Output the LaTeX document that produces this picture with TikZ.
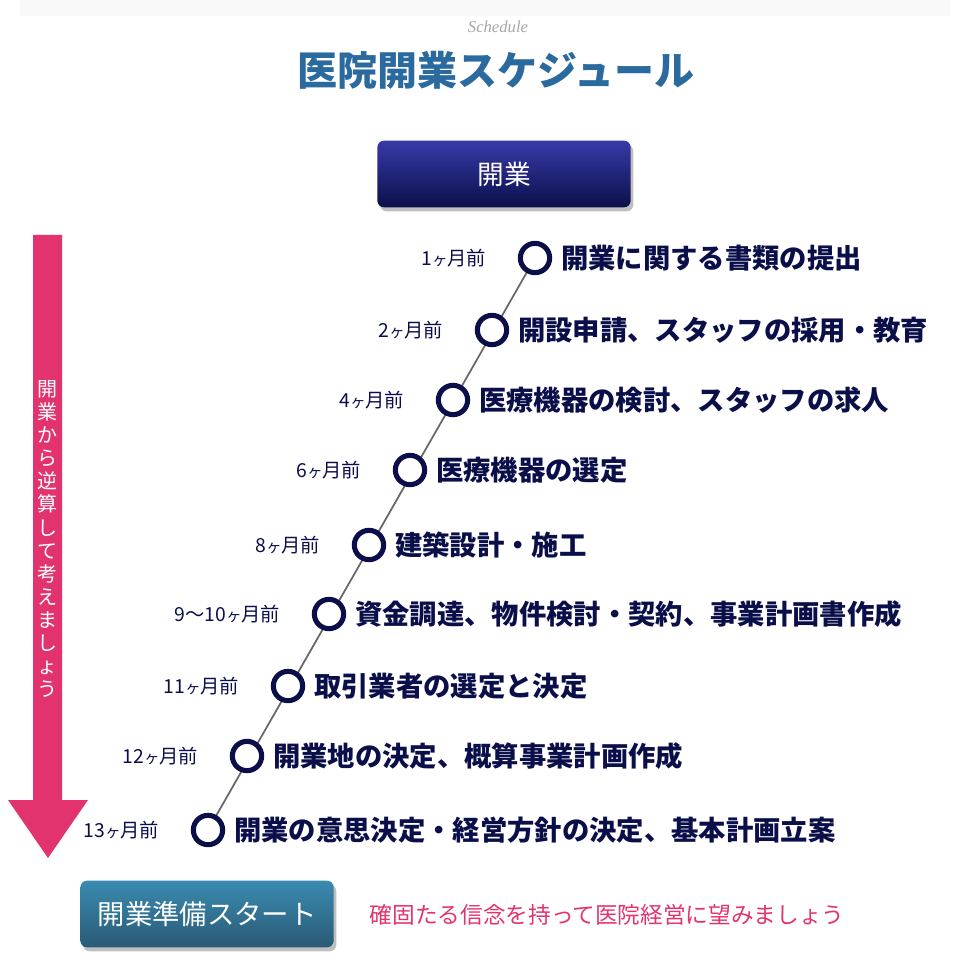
\documentclass[tikz,border=0pt]{standalone}
\usepackage{fontspec}
\setmainfont{Noto Sans CJK JP}
\newfontfamily\lib{Liberation Serif}
\usetikzlibrary{shadows}
\definecolor{navy}{HTML}{0A0F4A}
\definecolor{titleblue}{HTML}{2B6A9E}
\definecolor{pink}{HTML}{E3336E}
\definecolor{tealtop}{HTML}{3A8BB0}
\definecolor{tealbot}{HTML}{2A5A75}
\begin{document}
\begin{tikzpicture}[x=0.75pt,y=-0.75pt,
  stage/.style={circle,draw=navy,line width=3.8pt,minimum size=22pt,inner sep=0pt},
  month/.style={anchor=east,font=\fontsize{14.5}{15}\selectfont,text=navy},
  item/.style={anchor=west,font=\fontsize{20.5}{21}\selectfont\bfseries,text=navy},
  btn/.style={rounded corners=5pt,minimum width=190pt,minimum height=50pt,text=white,
     drop shadow={shadow xshift=2pt,shadow yshift=-3pt,opacity=0.5}}]
\useasboundingbox (0,0) rectangle (960,980);
\fill[gray!5] (20,0) rectangle (950,16);
\node[font=\itshape\fontsize{12.5}{13}\selectfont,text=gray!70] (sch) at (498,27) {\lib Schedule};
\node[font=\fontsize{30}{32}\selectfont\bfseries,text=titleblue] (title) at (496,70) {医院開業スケジュール};
\node[btn,top color=navy!60!blue!80,bottom color=navy,font=\fontsize{20}{22}\selectfont] (open) at (504,174) {開業};
\node[btn,top color=tealtop,bottom color=tealbot,font=\fontsize{20.5}{22}\selectfont] (start) at (207,914) {開業準備スタート};
% arrow
\fill[pink] (33,235) -- (62,235) -- (62,800) -- (88,800) -- (48,858) -- (8,800) -- (33,800) -- cycle;
\node[text=white,align=center,font=\fontsize{15}{17.3}\selectfont,anchor=north] (vt) at (47,376)
 {開\\業\\か\\ら\\逆\\算\\し\\て\\考\\え\\ま\\し\\ょ\\う};
% stages
\foreach \n/\x/\y in {1/535/258,2/492/330,3/453/400,4/410/470,5/369/545,6/329/614,7/288/686,8/247/756,9/208/830}
  \coordinate (p\n) at (\x,\y);
\draw[gray!80!black,line width=1.3pt] (p1) -- (p9);
\foreach \n/\m/\t in {1/1/開業に関する書類の提出,2/2/開設申請、スタッフの採用・教育,3/4/医療機器の検討、スタッフの求人,4/6/医療機器の選定,5/8/建築設計・施工,6/9〜10/資金調達、物件検討・契約、事業計画書作成,7/11/取引業者の選定と決定,8/12/開業地の決定、概算事業計画作成,9/13/開業の意思決定・経営方針の決定、基本計画立案}{
  \node[stage,fill=white] (c\n) at (p\n) {};
  \node[month] (m\n) at ([xshift=-33]p\n) {\m{\fontsize{11.5}{12}\selectfont ヶ}月前};
  \node[item] (t\n) at ([xshift=16]p\n) {\t};
}
\node[anchor=west,text=pink,font=\fontsize{17}{18}\selectfont] (msg) at (365,915) {確固たる信念を持って医院経営に望みましょう};
\end{tikzpicture}
\end{document}
